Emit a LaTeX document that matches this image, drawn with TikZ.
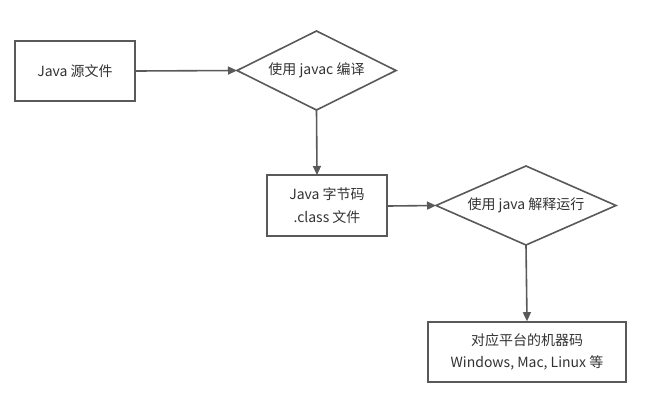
\documentclass[tikz,border=0pt]{standalone}
\usepackage{fontspec}
\setmainfont{Noto Sans CJK SC}
\usetikzlibrary{arrows.meta,shapes.geometric}
\definecolor{linegray}{HTML}{595959}
\definecolor{txt}{HTML}{333333}
\begin{document}
\begin{tikzpicture}[x=1pt,y=-1pt,
  every node/.style={font=\fontsize{14}{22.5}\selectfont, text=txt, inner sep=0pt},
  boxnode/.style={draw=linegray, line width=1.6pt, fill=white, align=center},
  decnode/.style={draw=linegray, line width=1.6pt, fill=white},
  conn/.style={draw=linegray, line width=1.6pt, -{Triangle[length=9pt,width=8pt]}}]
\useasboundingbox (0,0) rectangle (657,413);
% boxes
\node[boxnode, minimum width=120pt, minimum height=60pt] (src) at (75,71) {Java 源文件};
\draw[decnode] (237,70.5) coordinate (d1w) -- (316.5,31) coordinate (d1n) -- (396,70.5) coordinate (d1e) -- (316.5,110) coordinate (d1s) -- cycle;
\node (d1t) at (316.5,70.5) {使用 javac 编译};
\node[boxnode, minimum width=120pt, minimum height=60.5pt] (cls) at (327,205.5) {Java 字节码\\.class 文件};
\draw[decnode] (436,205.5) coordinate (d2w) -- (526,166) coordinate (d2n) -- (616,205.5) coordinate (d2e) -- (526,245) coordinate (d2s) -- cycle;
\node (d2t) at (526,205.5) {使用 java 解释运行};
\node[boxnode, minimum width=198pt, minimum height=60pt] (mach) at (527,352) {对应平台的机器码\\Windows, Mac, Linux 等};
% connectors
\draw[conn] (src.east) -- (d1w);
\coordinate (clstop) at (317,175);
\draw[conn] (d1s) -- (clstop);
\draw[conn] (cls.east |- 0,206) -- (d2w);
\draw[conn] (d2s) -- (mach.north);
\end{tikzpicture}
\end{document}
